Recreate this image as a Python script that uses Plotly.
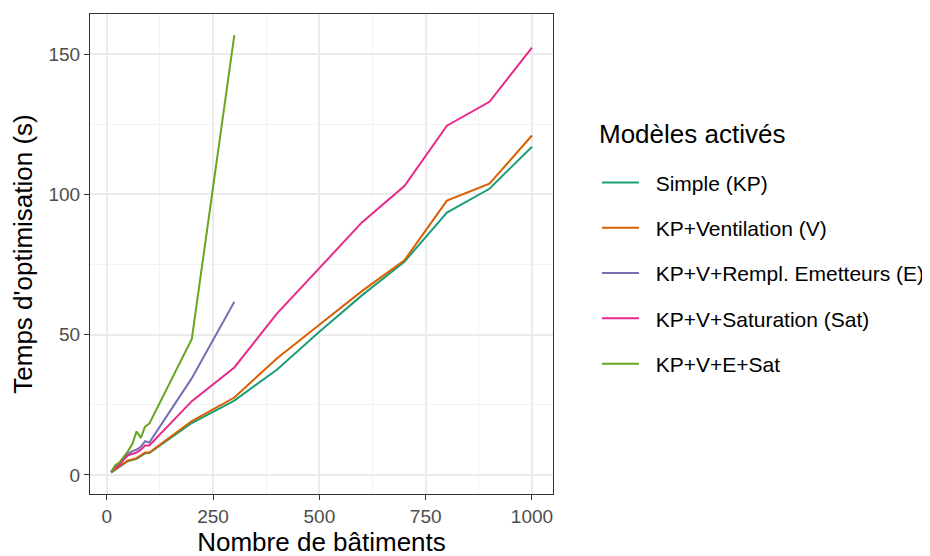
import plotly.graph_objects as go

# number of buildings
x_full = [10, 20, 30, 40, 50, 60, 70, 80, 90, 100, 200, 300, 400, 500, 600, 700, 800, 900, 1000]
x_short = [10, 20, 30, 40, 50, 60, 70, 80, 90, 100, 200, 300]

# optimisation time (s)
simple_kp = [0.8, 1.8, 2.7, 3.8, 5.0, 5.3, 5.7, 6.7, 7.7, 7.8, 18.5, 26.5, 37.5, 51.0, 64.0, 76.0, 93.5, 102.0, 117.0]
kp_v = [1.0, 2.0, 3.0, 4.0, 5.2, 5.5, 6.0, 7.0, 8.0, 8.0, 19.2, 27.6, 41.5, 53.5, 65.5, 76.5, 97.8, 103.8, 121.0]
kp_v_e = [1.0, 3.0, 4.0, 6.0, 7.5, 8.5, 9.0, 10.0, 12.0, 11.5, 34.5, 61.7]
kp_v_sat = [1.0, 2.5, 3.5, 5.5, 7.0, 7.5, 8.0, 9.0, 10.5, 10.5, 26.3, 38.3, 57.5, 73.7, 90.0, 103.0, 124.5, 133.0, 152.3]
kp_v_e_sat = [1.0, 3.5, 4.5, 6.5, 8.5, 11.0, 15.5, 13.2, 17.2, 18.3, 48.5, 156.8]

series = [
    ("Simple (KP)", x_full, simple_kp, "#1B9E77"),
    ("KP+Ventilation (V)", x_full, kp_v, "#D95F02"),
    ("KP+V+Rempl. Emetteurs (E)", x_short, kp_v_e, "#7570B3"),
    ("KP+V+Saturation (Sat)", x_full, kp_v_sat, "#E7298A"),
    ("KP+V+E+Sat", x_short, kp_v_e_sat, "#66A61E"),
]

fig = go.Figure()
for i, (name, xs, ys, col) in enumerate(series):
    # leading nbsp widen the gap between key and label, like ggplot
    fig.add_trace(go.Scatter(x=xs, y=ys, mode="lines", name="\u00a0\u00a0" + name,
                             legendgroup=str(i), line=dict(color=col, width=2)))

axis_common = dict(
    showline=True, mirror=True, linecolor="#333333", linewidth=1,
    ticks="outside", ticklen=5, tickcolor="#333333", tickwidth=1,
    showgrid=True, gridcolor="#EBEBEB", gridwidth=1.5, zeroline=False,
    tickfont=dict(size=19, color="#4D4D4D"),
    title_font=dict(size=26, color="black"),
)

fig.update_xaxes(range=[-39.5, 1049.5], tickvals=[0, 250, 500, 750, 1000],
                 minor=dict(showgrid=True, gridcolor="#F2F2F2", gridwidth=0.8, tick0=125, dtick=250),
                 title_text="Nombre de bâtiments", title_standoff=4, **axis_common)
fig.update_yaxes(range=[-6.8, 164.3], tickvals=[0, 50, 100, 150],
                 minor=dict(showgrid=True, gridcolor="#F2F2F2", gridwidth=0.8, tick0=25, dtick=50),
                 title_text="Temps d'optimisation (s)", title_standoff=8, **axis_common)

fig.update_layout(
    width=930, height=556,
    margin=dict(l=82, r=385, t=6, b=70, autoexpand=False),
    paper_bgcolor="white", plot_bgcolor="white",
    font=dict(family="Liberation Sans, Arial, sans-serif"),
    legend=dict(font=dict(size=21, color="black"),
                x=1.095, xanchor="left", y=0.691, yanchor="top",
                tracegroupgap=15, itemwidth=37),
    annotations=[dict(text="Modèles activés", xref="paper", yref="paper",
                      x=1.095, xanchor="left", y=0.749, yanchor="middle",
                      showarrow=False, font=dict(size=26, color="black"))],
)

fig.write_html("out.html")
